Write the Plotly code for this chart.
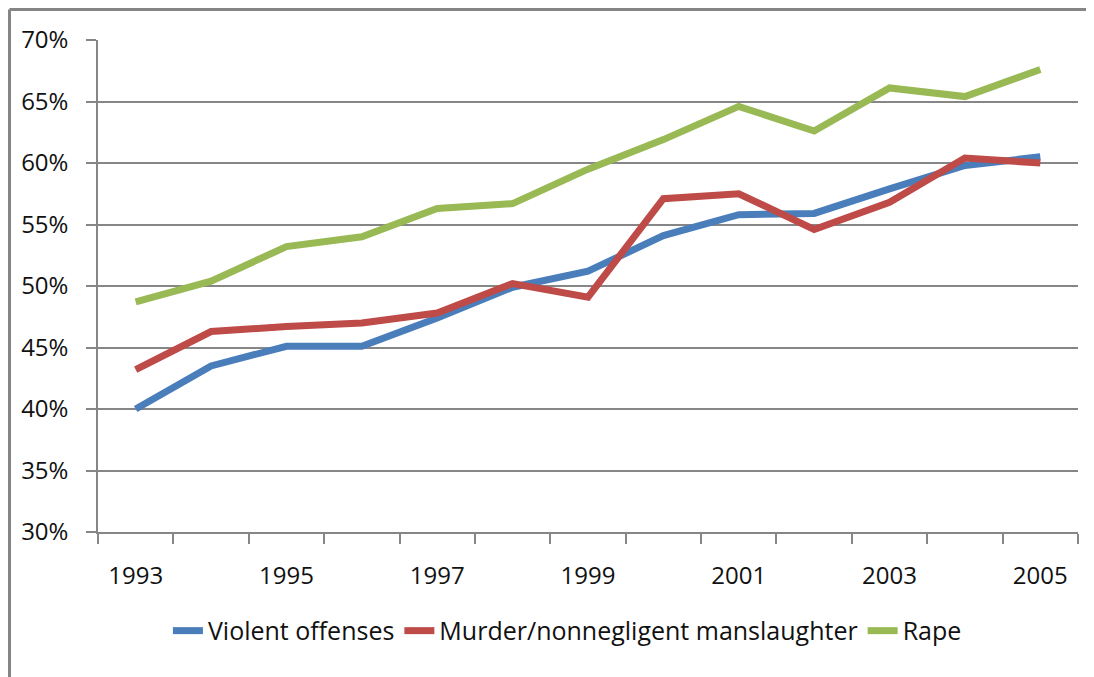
import plotly.graph_objects as go

years = list(range(1993, 2006))
violent = [40.0, 43.5, 45.1, 45.1, 47.4, 49.9, 51.2, 54.1, 55.8, 55.9, 57.9, 59.8, 60.5]
murder = [43.2, 46.3, 46.7, 47.0, 47.8, 50.2, 49.1, 57.1, 57.5, 54.6, 56.8, 60.4, 60.0]
rape = [48.7, 50.4, 53.2, 54.0, 56.3, 56.7, 59.5, 61.9, 64.6, 62.6, 66.1, 65.4, 67.6]
year_labels = [str(y) for y in years[::2]]

# page has an 8px body margin, so the figure is a bit smaller than the window
W, H = 1086, 669
L, R, T, B = 90, 16, 32, 145
FONT = "Open Sans"

fig = go.Figure()
for name, vals, col in [
    ("Violent offenses", violent, "#4A7EBB"),
    ("Murder/nonnegligent manslaughter", murder, "#BE4B48"),
    ("Rape", rape, "#98B954"),
]:
    fig.add_trace(go.Scatter(x=years, y=vals, name=name, mode="lines",
                             line=dict(color=col, width=7)))

# invisible trace to carry the year labels axis
fig.add_trace(go.Scatter(x=years, y=violent, xaxis="x2", mode="lines",
                         line=dict(width=0), showlegend=False, hoverinfo="skip"))

# chart frame (top and left edges)
pw, ph = W - L - R, H - T - B
x0 = (1.5 - L) / pw
y1 = (H - B - 1.5) / ph
y0 = (H - B - H) / ph
fig.add_shape(type="line", xref="paper", yref="paper", x0=x0, x1=(W - L) / pw,
              y0=y1, y1=y1, line=dict(color="#858585", width=3))
fig.add_shape(type="line", xref="paper", yref="paper", x0=x0, x1=x0,
              y0=y0, y1=y1, line=dict(color="#858585", width=3))

fig.update_layout(
    width=W, height=H,
    margin=dict(l=L, r=R, t=T, b=B),
    paper_bgcolor="white", plot_bgcolor="white",
    font=dict(family=FONT, size=24, color="#111111"),
    showlegend=True,
    legend=dict(orientation="h", x=0.479, xanchor="center", y=-0.201, yanchor="middle",
                font=dict(size=25), tracegroupgap=0),
    xaxis=dict(range=[1992.5, 2005.5], tickmode="array",
               tickvals=[y - 0.5 for y in years] + [2005.5], ticktext=[""] * 14,
               ticks="outside", ticklen=10, tickcolor="#868686", tickwidth=1.5,
               showgrid=False, showline=True, linecolor="#868686", linewidth=1.5,
               zeroline=False, fixedrange=True),
    xaxis2=dict(overlaying="x", side="bottom", range=[1992.5, 2005.5],
                tickmode="array", tickvals=years[::2], ticktext=year_labels,
                ticks="", showgrid=False, showline=False, zeroline=False,
                ticklabelstandoff=27, tickfont=dict(size=24)),
    yaxis=dict(range=[30, 70], dtick=5, ticksuffix="%", ticks="outside", ticklen=10,
               tickcolor="#868686", tickwidth=1.5, showgrid=True, gridcolor="#868686",
               gridwidth=1.5, showline=True, linecolor="#868686", linewidth=1.5,
               zeroline=False, ticklabelstandoff=13, tickfont=dict(size=24)),
)

fig.write_html("out.html")
